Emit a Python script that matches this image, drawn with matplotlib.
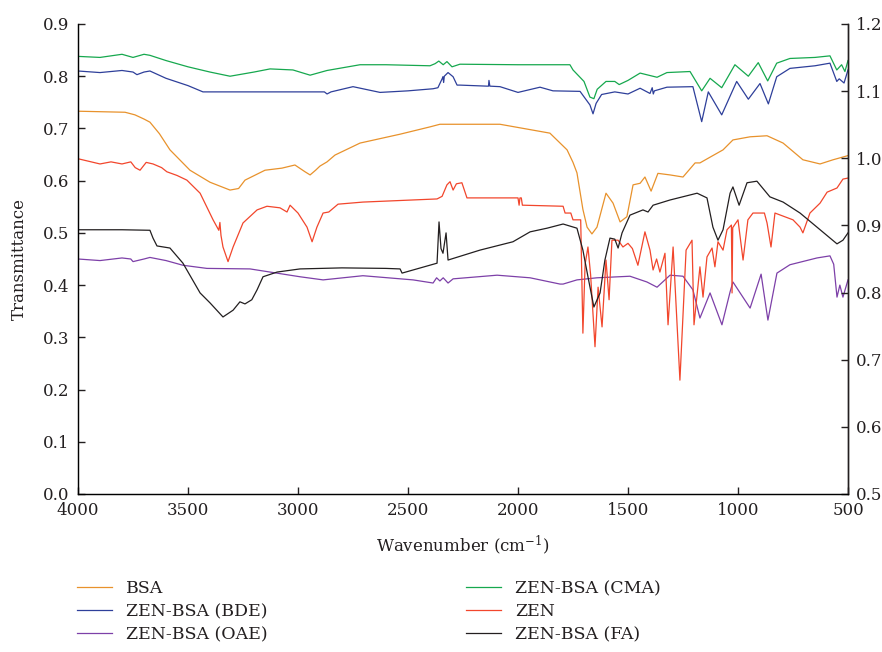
import matplotlib
matplotlib.use("Agg")
import matplotlib.pyplot as plt
import numpy as np

# ---------------- data ----------------
cma_wn = [4000, 3900, 3800, 3750, 3700, 3673, 3600, 3500, 3400, 3309, 3200, 3127, 3023, 2945, 2868,
          2718, 2600, 2400, 2377, 2360, 2340, 2323, 2300, 2264, 2000, 1764, 1750, 1700, 1673, 1655,
          1640, 1600, 1560, 1540, 1500, 1445, 1368, 1323, 1218, 1165, 1127, 1074, 1014, 953, 908,
          865, 824, 764, 650, 582, 551, 529, 514, 500]
cma_t = [0.838, 0.836, 0.842, 0.836, 0.842, 0.840, 0.830, 0.818, 0.808, 0.800, 0.808, 0.814, 0.812, 0.802, 0.811,
         0.822, 0.822, 0.820, 0.824, 0.829, 0.822, 0.828, 0.818, 0.823, 0.822, 0.822, 0.812, 0.790, 0.760, 0.757,
         0.775, 0.790, 0.790, 0.784, 0.792, 0.806, 0.798, 0.807, 0.809, 0.772, 0.796, 0.778, 0.822, 0.800, 0.826,
         0.791, 0.825, 0.834, 0.836, 0.839, 0.812, 0.822, 0.809, 0.830]

bde_wn = [4000, 3900, 3800, 3750, 3732, 3700, 3673, 3600, 3500, 3432, 3300, 3000, 2880, 2868, 2850,
          2750, 2627, 2500, 2386, 2364, 2345, 2341, 2338, 2335, 2318, 2295, 2277, 2264, 2141, 2134,
          2132, 2128, 2082, 2000, 1900, 1841, 1718, 1673, 1659, 1645, 1620, 1560, 1500, 1445, 1400,
          1390, 1385, 1380, 1323, 1205, 1165, 1135, 1074, 1006, 953, 900, 862, 824, 764, 650,
          582, 551, 540, 518, 500]
bde_t = [0.810, 0.807, 0.811, 0.808, 0.803, 0.808, 0.810, 0.796, 0.782, 0.770, 0.770, 0.770, 0.770, 0.766, 0.770,
         0.780, 0.769, 0.772, 0.776, 0.778, 0.795, 0.799, 0.788, 0.800, 0.807, 0.799, 0.783, 0.783, 0.781, 0.781,
         0.792, 0.781, 0.780, 0.769, 0.779, 0.772, 0.771, 0.745, 0.728, 0.748, 0.765, 0.770, 0.766, 0.777, 0.767,
         0.778, 0.766, 0.772, 0.779, 0.780, 0.713, 0.770, 0.726, 0.790, 0.756, 0.786, 0.747, 0.799, 0.815, 0.820,
         0.825, 0.790, 0.795, 0.787, 0.812]

bsa_wn = [4000, 3786, 3741, 3700, 3673, 3630, 3582, 3491, 3400, 3309, 3270, 3241, 3150, 3073, 3014,
          2968, 2945, 2920, 2900, 2868, 2832, 2718, 2536, 2400, 2355, 2082, 1855, 1777, 1750, 1732,
          1705, 1686, 1664, 1641, 1600, 1568, 1536, 1505, 1477, 1445, 1423, 1395, 1364, 1309, 1250,
          1195, 1173, 1127, 1068, 1023, 945, 868, 795, 705, 627, 568, 500]
bsa_t = [0.733, 0.731, 0.726, 0.718, 0.712, 0.690, 0.659, 0.620, 0.597, 0.582, 0.585, 0.601, 0.620, 0.624, 0.630,
         0.617, 0.611, 0.620, 0.628, 0.636, 0.649, 0.672, 0.689, 0.703, 0.708, 0.708, 0.691, 0.659, 0.635, 0.615,
         0.545, 0.511, 0.498, 0.511, 0.576, 0.557, 0.521, 0.531, 0.592, 0.595, 0.607, 0.580, 0.614, 0.611, 0.607,
         0.634, 0.634, 0.645, 0.659, 0.678, 0.684, 0.686, 0.672, 0.640, 0.632, 0.640, 0.648]

zen_wn = [4000, 3900, 3850, 3800, 3760, 3740, 3718, 3690, 3659, 3620, 3596, 3550, 3505, 3445, 3386,
          3360, 3355, 3350, 3341, 3318, 3295, 3250, 3186, 3141, 3082, 3050, 3036, 3000, 2959, 2936,
          2914, 2886, 2860, 2818, 2705, 2368, 2345, 2323, 2309, 2295, 2280, 2255, 2232, 2000, 1995,
          1991, 1985, 1980, 1975, 1795, 1786, 1760, 1750, 1715, 1705, 1695, 1682, 1670, 1650, 1636,
          1618, 1600, 1586, 1573, 1545, 1523, 1500, 1480, 1455, 1423, 1400, 1386, 1370, 1355, 1332,
          1318, 1295, 1264, 1236, 1209, 1200, 1173, 1159, 1141, 1118, 1105, 1091, 1068, 1050, 1030,
          1027, 1024, 1000, 977, 955, 932, 880, 868, 850, 832, 750, 718, 705, 673, 627,
          595, 550, 523, 500]
zen_t = [0.642, 0.632, 0.636, 0.632, 0.636, 0.625, 0.620, 0.635, 0.632, 0.625, 0.617, 0.610, 0.601, 0.576, 0.525,
         0.505, 0.520, 0.495, 0.473, 0.445, 0.473, 0.519, 0.544, 0.551, 0.548, 0.540, 0.553, 0.538, 0.511, 0.483,
         0.511, 0.538, 0.540, 0.555, 0.559, 0.565, 0.570, 0.592, 0.598, 0.582, 0.594, 0.596, 0.567, 0.567, 0.553,
         0.567, 0.567, 0.553, 0.553, 0.551, 0.538, 0.538, 0.525, 0.525, 0.308, 0.440, 0.473, 0.420, 0.282, 0.396,
         0.320, 0.448, 0.372, 0.486, 0.486, 0.473, 0.480, 0.470, 0.438, 0.502, 0.467, 0.429, 0.450, 0.425, 0.461,
         0.324, 0.473, 0.218, 0.467, 0.486, 0.324, 0.435, 0.377, 0.454, 0.471, 0.435, 0.483, 0.467, 0.506, 0.515,
         0.385, 0.510, 0.525, 0.448, 0.525, 0.538, 0.538, 0.519, 0.473, 0.538, 0.525, 0.511, 0.500, 0.538, 0.557,
         0.578, 0.586, 0.603, 0.605]

fa_wn = [4000, 3800, 3673, 3659, 3641, 3582, 3523, 3445, 3400, 3341, 3295, 3264, 3241, 3210, 3186,
         3159, 3095, 2991, 2800, 2600, 2536, 2527, 2368, 2359, 2350, 2341, 2327, 2318, 2173, 2023,
         1945, 1868, 1795, 1732, 1705, 1682, 1655, 1627, 1605, 1582, 1560, 1545, 1527, 1491, 1432,
         1409, 1386, 1309, 1186, 1141, 1114, 1091, 1068, 1036, 1023, 995, 959, 914, 855, 795,
         718, 641, 550, 523, 500]
fa_t = [0.506, 0.506, 0.505, 0.490, 0.475, 0.471, 0.442, 0.385, 0.366, 0.339, 0.352, 0.368, 0.364, 0.372, 0.391,
        0.416, 0.425, 0.431, 0.433, 0.432, 0.431, 0.423, 0.442, 0.521, 0.470, 0.461, 0.500, 0.448, 0.467, 0.483,
        0.502, 0.509, 0.517, 0.509, 0.467, 0.416, 0.358, 0.385, 0.448, 0.490, 0.488, 0.471, 0.500, 0.534, 0.544,
        0.540, 0.553, 0.563, 0.576, 0.567, 0.511, 0.486, 0.506, 0.576, 0.588, 0.553, 0.596, 0.599, 0.569, 0.559,
        0.538, 0.511, 0.479, 0.486, 0.500]

oae_wn = [4000, 3900, 3800, 3760, 3750, 3700, 3673, 3600, 3523, 3414, 3218, 2991, 2886, 2705, 2477,
          2386, 2370, 2355, 2340, 2318, 2295, 2095, 1945, 1809, 1795, 1732, 1641, 1491, 1414, 1368,
          1309, 1250, 1205, 1173, 1127, 1073, 1036, 1023, 945, 895, 864, 823, 764, 641, 582,
          565, 550, 537, 523, 500]
oae_t = [0.450, 0.447, 0.452, 0.450, 0.445, 0.450, 0.453, 0.447, 0.438, 0.432, 0.431, 0.416, 0.410, 0.418, 0.410,
         0.404, 0.414, 0.408, 0.414, 0.404, 0.412, 0.419, 0.414, 0.402, 0.402, 0.410, 0.414, 0.417, 0.406, 0.396,
         0.419, 0.417, 0.391, 0.337, 0.385, 0.324, 0.387, 0.406, 0.356, 0.421, 0.333, 0.423, 0.439, 0.452, 0.456,
         0.440, 0.377, 0.400, 0.377, 0.410]

x_ticks = [4000, 3500, 3000, 2500, 2000, 1500, 1000, 500]
left_ticks = [0.0, 0.1, 0.2, 0.3, 0.4, 0.5, 0.6, 0.7, 0.8, 0.9]
right_ticks = [0.5, 0.6, 0.7, 0.8, 0.9, 1.0, 1.1, 1.2]

series = [
    ("BSA", bsa_wn, bsa_t, "#E8922C"),
    ("ZEN-BSA (BDE)", bde_wn, bde_t, "#2E3F9A"),
    ("ZEN-BSA (OAE)", oae_wn, oae_t, "#7D40A8"),
    ("ZEN-BSA (CMA)", cma_wn, cma_t, "#16A84E"),
    ("ZEN", zen_wn, zen_t, "#F2462C"),
    ("ZEN-BSA (FA)", fa_wn, fa_t, "#231F20"),
]

# ---------------- figure ----------------
plt.rcParams['font.family'] = ['DejaVu Serif']
plt.rcParams['mathtext.fontset'] = 'dejavuserif'

fig = plt.figure(figsize=(8.82, 6.52), dpi=100)
ax = fig.add_axes([78 / 882, 1 - 494 / 652, (848 - 78) / 882, (494 - 24) / 652])

handles = []
for label, wn, t, color in series:
    (ln,) = ax.plot(wn, t, color=color, lw=0.9, label=label)
    handles.append(ln)

ax.set_xlim(4000, 500)
ax.set_ylim(0.0, 0.9)
ax.set_xticks(x_ticks)
ax.set_yticks(left_ticks)
ax.set_yticklabels([f"{v:.1f}" for v in left_ticks])
ax.spines['top'].set_visible(False)
for s in ['left', 'bottom', 'right']:
    ax.spines[s].set_linewidth(1.0)
    ax.spines[s].set_color('#231F20')
ax.tick_params(direction='in', length=5, width=1.0, labelsize=12, colors='#231F20', pad=6)
ax.set_ylabel("Transmittance", fontsize=12, color='#231F20', labelpad=11)
ax.set_xlabel(r"Wavenumber (cm$^{-1}$)", fontsize=12, color='#231F20', labelpad=10)

ax2 = ax.twinx()
ax2.set_ylim(0.5, 1.2)
ax2.set_yticks(right_ticks)
ax2.set_yticklabels([f"{v:.1f}" for v in right_ticks])
ax2.spines['top'].set_visible(False)
ax2.spines['right'].set_linewidth(1.0)
ax2.spines['right'].set_color('#231F20')
ax2.tick_params(direction='in', length=5, width=1.0, labelsize=12, colors='#231F20', pad=6)

leg_kw = dict(frameon=False, fontsize=12.5, handlelength=2.0, handletextpad=0.85,
              labelspacing=0.35, borderpad=0, borderaxespad=0, loc='upper left')
leg1 = fig.legend(handles[:3], [s[0] for s in series[:3]],
                  bbox_to_anchor=(77 / 882, 1 - 580 / 652), **leg_kw)
leg2 = fig.legend(handles[3:], [s[0] for s in series[3:]],
                  bbox_to_anchor=(466 / 882, 1 - 580 / 652), **leg_kw)
for lg in (leg1, leg2):
    for txt in lg.get_texts():
        txt.set_color('#231F20')

fig.savefig("out.png", dpi=100)
